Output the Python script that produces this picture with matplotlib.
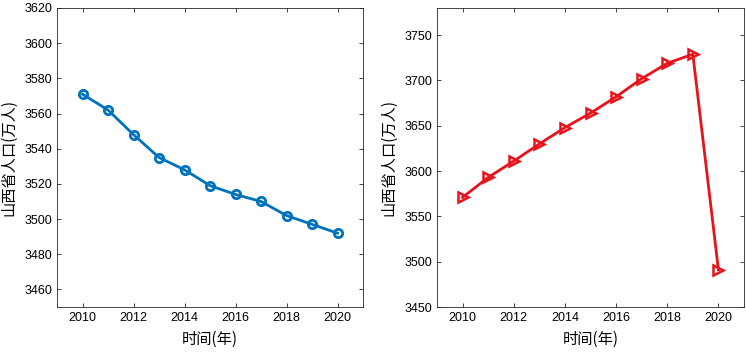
import matplotlib
matplotlib.use("Agg")
import matplotlib.pyplot as plt

plt.rcParams['font.family'] = ['Liberation Sans', 'Noto Sans CJK SC', 'DejaVu Sans']

# 数据
years = [2010, 2011, 2012, 2013, 2014, 2015, 2016, 2017, 2018, 2019, 2020]
pop_real = [3571, 3562, 3548, 3535, 3528, 3519, 3514, 3510, 3502, 3497, 3492]
pop_pred = [3571, 3593, 3611, 3630, 3648, 3664, 3682, 3702, 3719, 3729, 3491]

xlabel = "时间(年)"
ylabel = "山西省人口(万人)"
label_font = ['Noto Sans CJK SC', 'DejaVu Sans']

fig = plt.figure(figsize=(7.46, 3.52), dpi=100)
ax1 = fig.add_axes([57 / 746, 45 / 352, 306 / 746, 299 / 352])
ax2 = fig.add_axes([437 / 746, 45 / 352, 307 / 746, 299 / 352])

ax1.plot(years, pop_real, color='#0072BD', linewidth=2, marker='o',
         markersize=6, markerfacecolor='none', markeredgewidth=2)
ax1.set_xlim(2009, 2021)
ax1.set_ylim(3450, 3620)
ax1.set_yticks(range(3460, 3621, 20))

ax2.plot(years, pop_pred, color='#E8121B', linewidth=2, marker='>',
         markersize=6.5, markerfacecolor='none', markeredgewidth=1.8)
ax2.set_xlim(2009, 2021)
ax2.set_ylim(3450, 3780)
ax2.set_yticks(range(3450, 3751, 50))

for ax in (ax1, ax2):
    ax.set_xticks(range(2010, 2021, 2))
    ax.tick_params(direction='in', length=3, labelsize=9, width=0.6, color='#262626',
                   top=True, right=True, labeltop=False, labelright=False)
    for s in ax.spines.values():
        s.set_linewidth(0.6)
        s.set_color('#262626')
    ax.set_xlabel(xlabel, fontsize=11, family=label_font, labelpad=5)
    ax.set_ylabel(ylabel, fontsize=11, family=label_font, labelpad=5)

fig.savefig("out.png", dpi=100)
